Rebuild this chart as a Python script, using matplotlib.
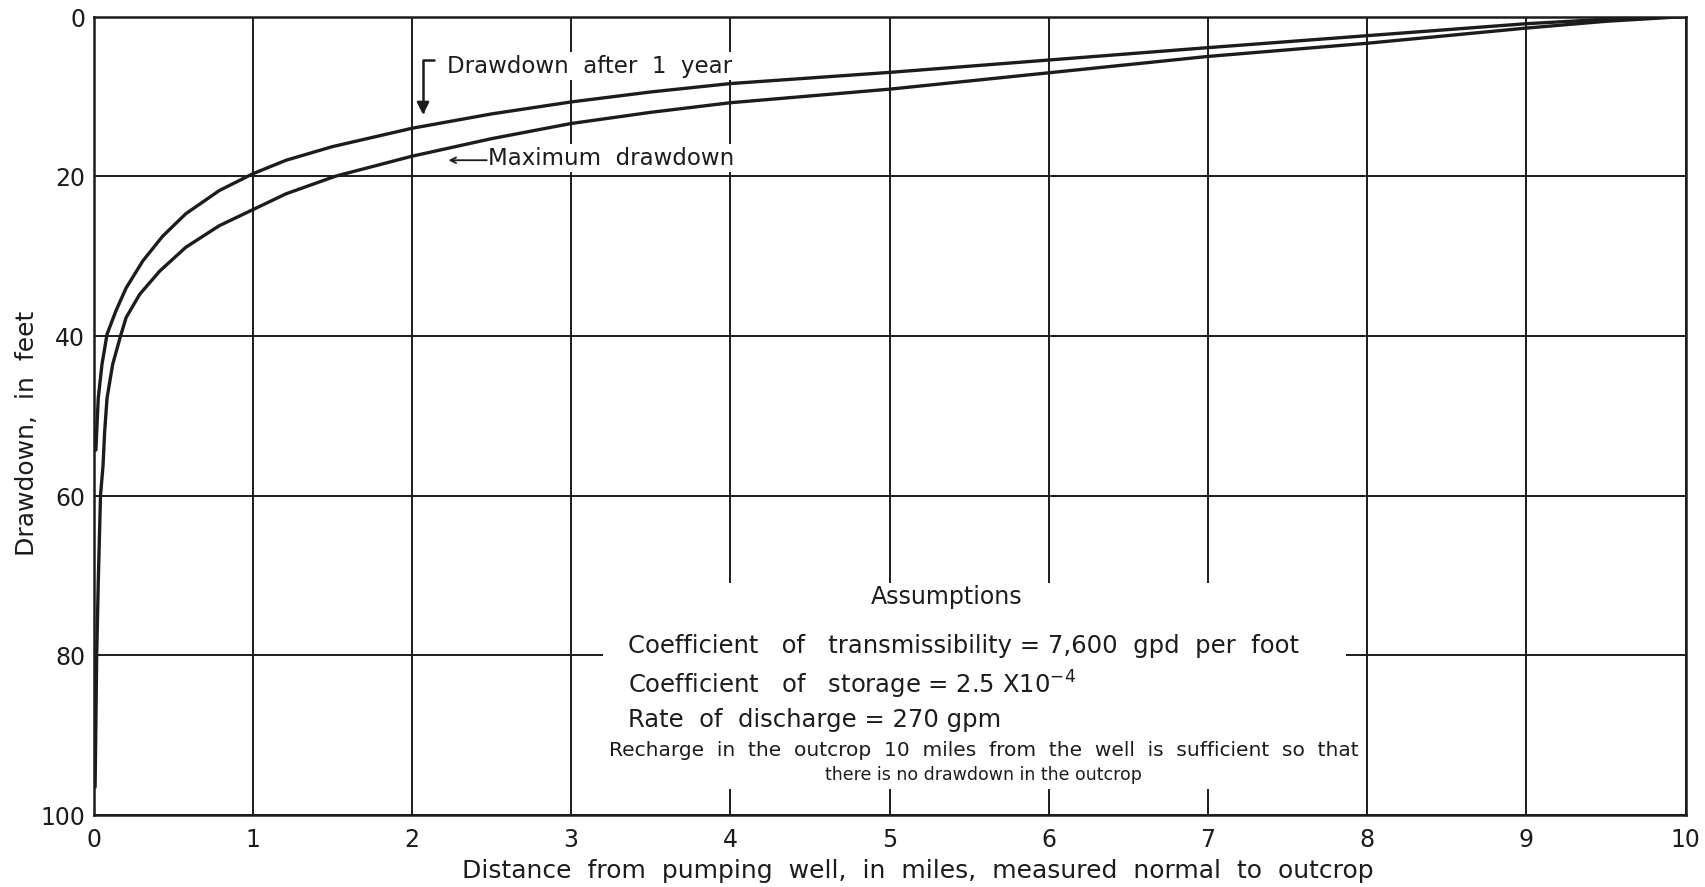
import matplotlib
matplotlib.use('Agg')
import matplotlib.pyplot as plt
from matplotlib.patches import Rectangle

# Drawdown profiles away from the pumping well (miles, feet)
dist_one_year = [0.015, 0.02, 0.03, 0.053, 0.085, 0.14, 0.205, 0.31, 0.435, 0.58, 0.79,
                 1.0, 1.21, 1.5, 2.0, 2.5, 3.0, 3.5, 4.0, 5.0, 6.0, 7.0, 8.0, 9.0, 9.5, 10.0]
drawdown_one_year = [54.3, 52.0, 47.8, 43.6, 39.8, 36.9, 34.0, 30.6, 27.5, 24.7, 21.8,
                     19.7, 18.0, 16.3, 14.0, 12.2, 10.7, 9.45, 8.4, 7.0, 5.45, 3.9, 2.4, 0.9, 0.35, 0.0]

dist_maximum = [0.01, 0.013, 0.02, 0.03, 0.044, 0.06, 0.07, 0.085, 0.12, 0.17, 0.205, 0.29,
                0.415, 0.58, 0.79, 1.0, 1.21, 1.52, 2.0, 2.5, 3.0, 3.5, 4.0, 5.0, 6.0, 7.0,
                8.0, 9.0, 9.5, 10.0]
drawdown_maximum = [96.5, 91.8, 80.0, 70.8, 60.0, 56.2, 52.0, 47.8, 43.6, 40.0, 37.7, 34.8,
                    31.9, 28.9, 26.2, 24.2, 22.2, 20.0, 17.5, 15.3, 13.4, 12.0, 10.8, 9.1, 7.05, 5.0,
                    3.35, 1.45, 0.6, 0.0]

x_ticks = list(range(0, 11))
y_ticks = [0, 20, 40, 60, 80, 100]

assumption_lines = [
    "Coefficient   of   transmissibility = 7,600  gpd  per  foot",
    "Coefficient   of   storage = 2.5 X10$^{-4}$",
    "Rate  of  discharge = 270 gpm",
]
recharge_note = "Recharge  in  the  outcrop  10  miles  from  the  well  is  sufficient  so  that"
recharge_note_2 = "there is no drawdown in the outcrop"

INK = '#1c1c1c'

plt.rcParams['font.family'] = 'DejaVu Sans'

fig = plt.figure(figsize=(17.05, 8.875), dpi=100)
ax = fig.add_axes([93.5 / 1705, 1 - 815 / 887, 1592 / 1705, 798 / 887])

ax.set_xlim(0, 10)
ax.set_ylim(100, 0)
ax.set_xticks(x_ticks)
ax.set_yticks(y_ticks)
ax.tick_params(length=0, labelsize=17, colors=INK)
ax.tick_params(axis='x', pad=9)
ax.tick_params(axis='y', pad=6)
ax.grid(True, color=INK, linewidth=1.4)
ax.set_axisbelow(True)
for spine in ax.spines.values():
    spine.set_color(INK)
    spine.set_linewidth(1.8)

# blank panel behind the list of assumptions
ax.add_patch(Rectangle((3.2, 71.0), 4.67, 25.8, facecolor='white', edgecolor='none', zorder=1))

ax.plot(dist_one_year, drawdown_one_year, color=INK, linewidth=2.4, zorder=3,
        solid_joinstyle='round', solid_capstyle='round')
ax.plot(dist_maximum, drawdown_maximum, color=INK, linewidth=2.4, zorder=3,
        solid_joinstyle='round', solid_capstyle='round')

white_box = dict(facecolor='white', edgecolor='none', pad=2)

ax.text(2.22, 6.2, "Drawdown  after  1  year", fontsize=16.5, color=INK,
        va='center', ha='left', bbox=white_box, zorder=4)
ax.annotate('', xy=(2.07, 12.3), xytext=(2.14, 5.4),
            arrowprops=dict(arrowstyle='-|>', color=INK, linewidth=1.8, mutation_scale=18,
                            shrinkA=0, shrinkB=0, connectionstyle='angle,angleA=180,angleB=90,rad=0'),
            zorder=4)

ax.text(2.48, 17.7, "Maximum  drawdown", fontsize=16.5, color=INK,
        va='center', ha='left', bbox=white_box, zorder=4)
ax.annotate('', xy=(2.23, 18.0), xytext=(2.47, 18.0),
            arrowprops=dict(arrowstyle='->', color=INK, linewidth=1.3, mutation_scale=10,
                            shrinkA=0, shrinkB=0),
            zorder=4)

ax.text(5.36, 72.6, "Assumptions", fontsize=17, color=INK, ha='center', va='center', zorder=4)
for line_y, line in zip([78.8, 83.6, 88.1], assumption_lines):
    ax.text(3.36, line_y, line, fontsize=17.5, color=INK, ha='left', va='center', zorder=4)
ax.text(5.59, 91.9, recharge_note, fontsize=14.5, color=INK, ha='center', va='center', zorder=4)
ax.text(5.59, 94.9, recharge_note_2, fontsize=12.5, color=INK, ha='center', va='center', zorder=4)

ax.set_xlabel("Distance  from  pumping  well,  in  miles,  measured  normal  to  outcrop",
              fontsize=18, color=INK)
ax.xaxis.set_label_coords(0.518, -0.054)
ax.set_ylabel("Drawdown,  in  feet", fontsize=18, color=INK)
ax.yaxis.set_label_coords(-0.034, 0.479)

fig.savefig('out.png', dpi=100, facecolor='white')
